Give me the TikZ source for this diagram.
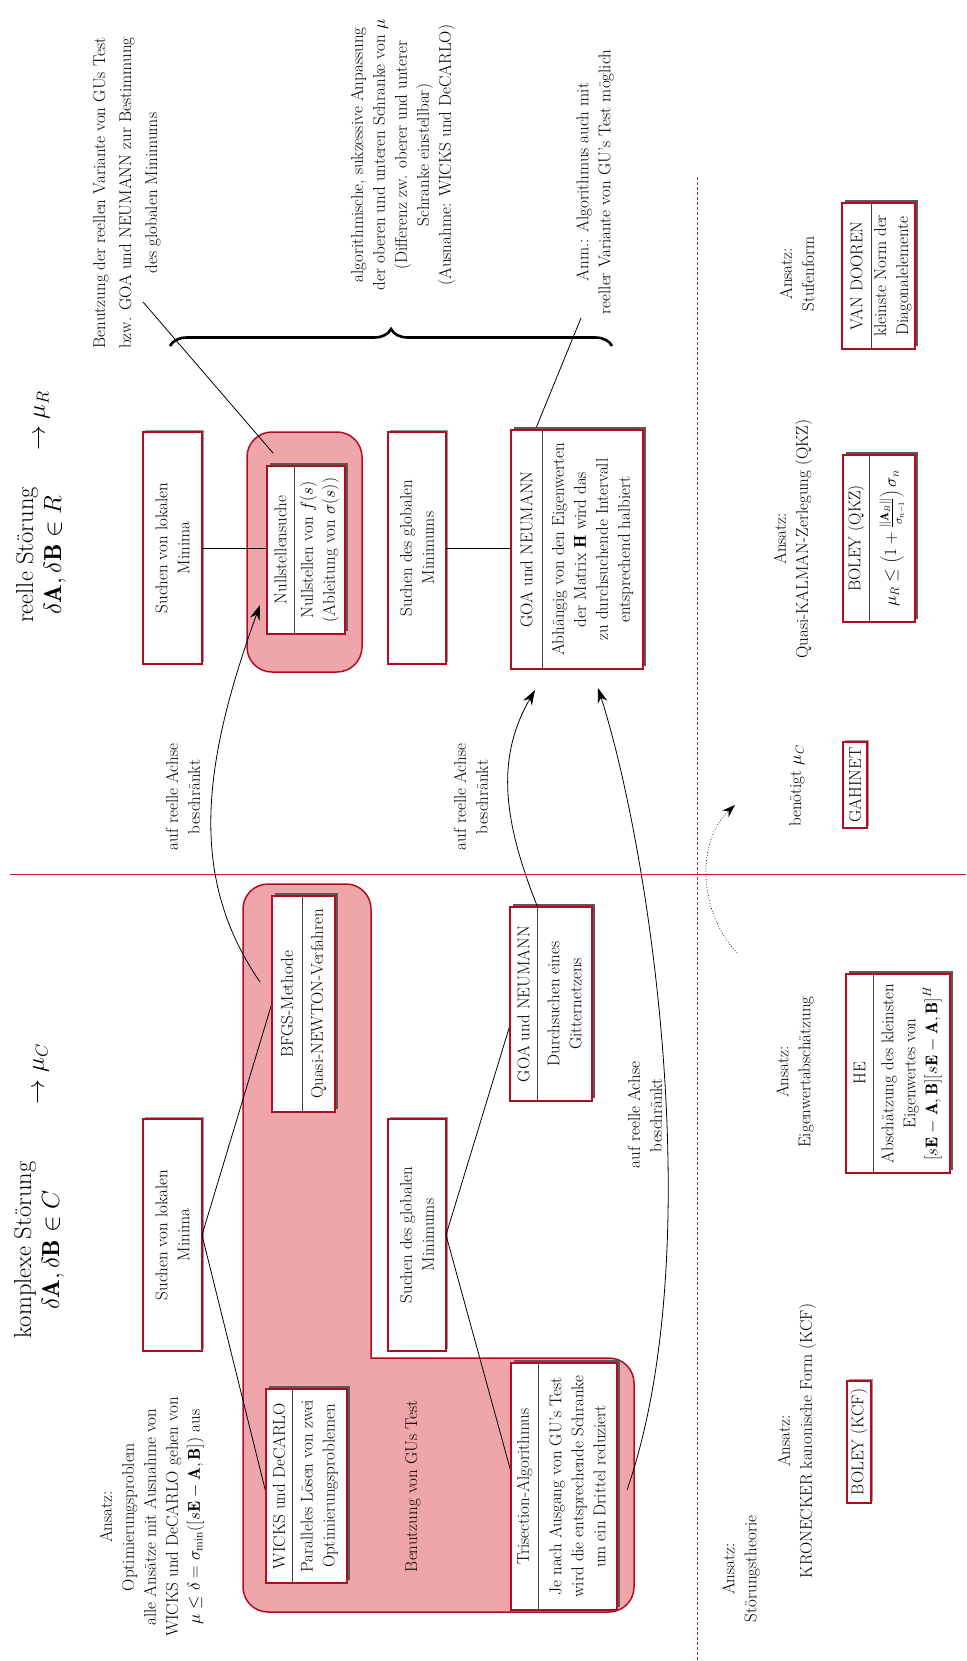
\documentclass[tikz,border=0pt]{standalone}
\usepackage{fontspec}
\usetikzlibrary{shadows,decorations.pathreplacing,arrows.meta,calc}
\definecolor{boxred}{RGB}{178,12,36}
\definecolor{linered}{RGB}{200,24,40}
\definecolor{pinkfill}{RGB}{239,166,171}
\begin{document}
\begin{tikzpicture}[x=1pt,y=-1pt,
  every node/.style={font=\fontsize{17}{22}\selectfont},
  txt/.style={rotate=90,align=center,inner sep=0pt},
  ttl/.style={rotate=90,align=center,inner sep=0pt,font=\fontsize{24.5}{28}\selectfont},
  frame/.style={draw=boxred,line width=1.3pt,fill=white,inner sep=0pt,outer sep=0pt,
     drop shadow={shadow xshift=3pt,shadow yshift=3pt,fill=black!65,opacity=1}},
  plainframe/.style={draw=boxred,line width=1.3pt,fill=white,inner sep=0pt,outer sep=0pt,
     drop shadow={shadow xshift=2pt,shadow yshift=2pt,fill=black!40,opacity=1}},
  divider/.style={line width=1pt,draw=black!75},
  conn/.style={line width=0.8pt},
  arr/.style={line width=0.8pt,-{Stealth[length=15pt,width=10pt]}},
  pinkbox/.style={fill=pinkfill,draw=boxred,line width=1.5pt},
  sepline/.style={draw=linered,line width=1pt}]
\useasboundingbox (0,0) rectangle (966,1661);

% separators
\coordinate (hl1) at (10,874);
\coordinate (hl2) at (966,874);
\coordinate (vl1) at (697,177);
\coordinate (vl2) at (697,1661);
\draw[sepline] (hl1) -- (hl2);
\draw[sepline,dash pattern=on 3pt off 2pt] (vl1) -- (vl2);

% pink regions
\path[pinkbox,rounded corners=25pt] (247,432) rectangle (362,672);
\path[pinkbox,rounded corners=25pt,line cap=rect] (371,1358) -- (634,1358) -- (634,1612) -- (243,1612) -- (243,884) -- (371,884) -- (371,1358);

% titles
\node[ttl] (tR) at (41,555) {reelle Störung\\$\delta\mathbf{A},\delta\mathbf{B}\in R$};
\node[ttl] (aR) at (42,421) {$\to\mu_R$};
\node[ttl] (tC) at (39,1250) {komplexe Störung\\$\delta\mathbf{A},\delta\mathbf{B}\in C$};
\node[ttl] (aC) at (41,1074) {$\to\mu_C$};

% annotations
\node[txt,font=\fontsize{17}{26}\selectfont] (nB) at (127,193) {Benutzung der reellen Variante von GUs Test\\bzw. GOA und NEUMANN zur Bestimmung\\des globalen Minimums};
\node[txt] (nAlg) at (403,155) {algorithmische, sukzessive Anpassung\\der oberen und unteren Schranke von $\mu$\\(Differenz zw. oberer und unterer\\Schranke einstellbar)\\(Ausnahme: WICKS und DeCARLO)};
\node[txt] (nAnm) at (595,182) {Anm.: Algorithmus auch mit\\reeller Variante von GU's Test möglich};
\node[txt] (auf1) at (183,797) {auf reelle Achse\\beschränkt};
\node[txt] (auf2) at (471,797) {auf reelle Achse\\beschränkt};
\node[txt] (auf3) at (645,1115) {auf reelle Achse\\beschränkt};
\node[txt] (ansStufe) at (797,274) {Ansatz:\\Stufenform};
\node[txt] (ansQKZ) at (793,539) {Ansatz:\\Quasi-KALMAN-Zerlegung (QKZ)};
\node[txt] (benoet) at (797,786) {benötigt $\mu_C$};
\node[txt] (ansEig) at (795,1072) {Ansatz:\\Eigenwertabschätzung};
\node[txt] (ansKCF) at (797,1441) {Ansatz:\\KRONECKER kanonische Form (KCF)};
\node[txt] (ansStoer) at (741,1569) {Ansatz:\\Störungstheorie};
\node[txt] (ansOpt) at (152,1517) {Ansatz:\\Optimierungsproblem\\alle Ansätze mit Ausnahme von\\WICKS und DeCARLO gehen von\\$\mu\le\delta=\sigma_{\min}([s\mathbf{E}-\mathbf{A},\mathbf{B}])$ aus};
\node[txt] (gusTest) at (413,1486) {Benutzung von GUs Test};

% coordinates for connector ends
\coordinate (bS) at (143,302);
\coordinate (bE) at (273,453);
\coordinate (anmS) at (581,318);
\coordinate (anmE) at (525,455);
\coordinate (a1s) at (260,982);
\coordinate (a1e) at (260,605);
\coordinate (a2s) at (538,908);
\coordinate (a2e) at (535,690);
\coordinate (a3s) at (627,1490);
\coordinate (a3e) at (598,688);
\coordinate (dts) at (737,953);
\coordinate (dte) at (735,805);
\coordinate (brL) at (170,346);
\coordinate (brR) at (612,346);

% brace
\draw[line width=2.6pt,decorate,decoration={brace,amplitude=17pt}] (brL) -- (brR);

% frames
\node[plainframe,minimum width=59pt,minimum height=232pt] (rlok) at (172.5,548) {};
\node[plainframe,minimum width=58pt,minimum height=232pt] (rglob) at (417,548) {};
\node[plainframe,minimum width=59pt,minimum height=232pt] (clok) at (172.5,1235) {};
\node[plainframe,minimum width=58pt,minimum height=232pt] (cglob) at (417,1235) {};

% straight connectors
\draw[conn] (rlok.east) -- (306,548);
\draw[conn] (rglob.east) -- (511,548);
\draw[conn] (bS) -- (bE);
\draw[conn] (anmS) -- (anmE);
\draw[conn] (clok.east) -- (272,1003);
\draw[conn] (clok.east) -- (266,1493);
\draw[conn] (cglob.east) -- (510,1025);
\draw[conn] (cglob.east) -- (511,1472);

\node[frame,minimum width=78pt,minimum height=168pt] (nulls) at (306,550) {};
\node[frame,minimum width=132pt,minimum height=239pt] (rgoa) at (577,549.5) {};
\node[frame,minimum width=63pt,minimum height=216pt] (bfgs) at (303.5,1004) {};
\node[frame,minimum width=81pt,minimum height=194pt] (wicks) at (306.5,1486) {};
\node[frame,minimum width=106pt,minimum height=247pt] (tri) at (564,1486.5) {};
\node[frame,minimum width=82pt,minimum height=194pt] (cgoa) at (551,1004) {};
\node[frame,minimum width=73pt,minimum height=146pt] (vdo) at (878.5,276) {};
\node[frame,minimum width=72pt,minimum height=167pt] (bqkz) at (879,538.5) {};
\node[frame,minimum width=104pt,minimum height=199pt] (he) at (898,1073.5) {};
\node[plainframe,minimum width=24pt,minimum height=86pt] (gah) at (855,785) {};
\node[plainframe,minimum width=24pt,minimum height=122pt] (bkcf) at (859,1442) {};

% dividers
\draw[divider] ([xshift=27pt]nulls.north west) -- ([xshift=27pt]nulls.south west);
\draw[divider] ([xshift=31pt]rgoa.north west) -- ([xshift=31pt]rgoa.south west);
\draw[divider] ([xshift=30pt]bfgs.north west) -- ([xshift=30pt]bfgs.south west);
\draw[divider] ([xshift=26pt]wicks.north west) -- ([xshift=26pt]wicks.south west);
\draw[divider] ([xshift=27pt]tri.north west) -- ([xshift=27pt]tri.south west);
\draw[divider] ([xshift=27pt]cgoa.north west) -- ([xshift=27pt]cgoa.south west);
\draw[divider] ([xshift=29pt]vdo.north west) -- ([xshift=29pt]vdo.south west);
\draw[divider] ([xshift=26pt]bqkz.north west) -- ([xshift=26pt]bqkz.south west);
\draw[divider] ([xshift=27pt]he.north west) -- ([xshift=27pt]he.south west);

% box texts
\node[txt] (rlokT) at (rlok) {Suchen von lokalen\\Minima};
\node[txt] (rglobT) at (rglob) {Suchen des globalen\\Minimums};
\node[txt] (clokT) at (clok) {Suchen von lokalen\\Minima};
\node[txt] (cglobT) at (cglob) {Suchen des globalen\\Minimums};
\node[txt] (nulls1) at (280.5,550) {Nullstellensuche};
\node[txt] (nulls2) at (319.5,550) {Nullstellen von $f(s)$\\(Ableitung von $\sigma(s)$)};
\node[txt] (rgoa1) at (526.5,549.5) {GOA und NEUMANN};
\node[txt] (rgoa2) at (592.5,549.5) {Abhängig von den Eigenwerten\\der Matrix $\mathbf{H}$ wird das\\zu durchsuchende Intervall\\entsprechend halbiert};
\node[txt] (bfgs1) at (287,1004) {BFGS-Methode};
\node[txt] (bfgs2) at (318.5,1004) {Quasi-NEWTON-Verfahren};
\node[txt] (wicks1) at (279,1486) {WICKS und DeCARLO};
\node[txt] (wicks2) at (319.5,1486) {Paralleles Lösen von zwei\\Optimierungsproblemen};
\node[txt] (tri1) at (524.5,1486.5) {Trisection-Algorithmus};
\node[txt] (tri2) at (577.5,1486.5) {Je nach Ausgang von GU's Test\\wird die entsprechende Schranke\\um ein Drittel reduziert};
\node[txt] (cgoa1) at (523.5,1004) {GOA und NEUMANN};
\node[txt] (cgoa2) at (564.5,1004) {Durchsuchen eines\\Gitternetzens};
\node[txt] (vdo1) at (856.5,276) {VAN DOOREN};
\node[txt] (vdo2) at (893,276) {kleinste Norm der\\Diagonalelemente};
\node[txt] (bqkz1) at (856,538.5) {BOLEY (QKZ)};
\node[txt] (bqkz2) at (892,538.5) {$\mu_R\le\left(1+\frac{\|\mathbf{A}_B\|}{\sigma_{n-1}}\right)\sigma_n$};
\node[txt] (he1) at (859.5,1073.5) {HE};
\node[txt] (he2) at (911.5,1073.5) {Abschätzung des kleinsten\\Eigenwertes von\\$[s\mathbf{E}-\mathbf{A},\mathbf{B}][s\mathbf{E}-\mathbf{A},\mathbf{B}]^H$};
\node[txt] (gahT) at (gah) {GAHINET};
\node[txt] (bkcfT) at (bkcf) {BOLEY (KCF)};

% curved arrows
\draw[arr] (a1s) .. controls (190,880) and (200,770) .. (a1e);
\draw[arr] (a2s) .. controls (500,814) and (498,754) .. (a2e);
\draw[arr] (a3s) .. controls (710,1250) and (650,850) .. (a3e);
\draw[line width=0.7pt,dotted,-{Stealth[length=13pt,width=9pt]}] (dts) .. controls (697,910) and (697,840) .. (dte);
\end{tikzpicture}
\end{document}
